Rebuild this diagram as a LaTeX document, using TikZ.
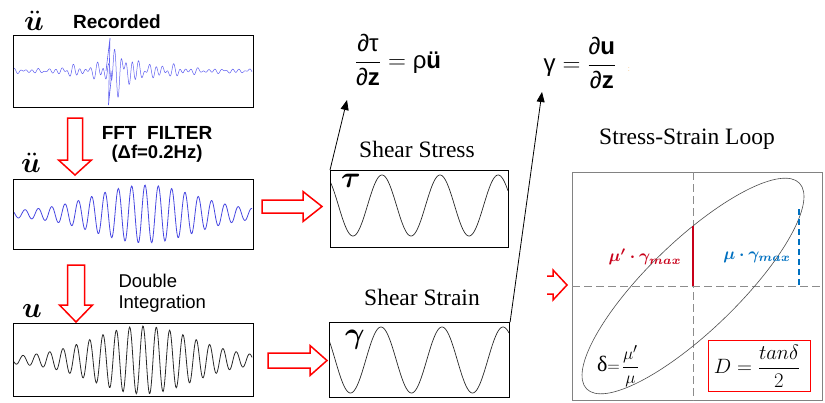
\documentclass[tikz,border=0pt]{standalone}
\usepackage{amsmath}
\usepackage{bm}
\usepackage{fontspec}
\newfontfamily\arial{Liberation Sans}
\newfontfamily\tnr{Liberation Serif}
\usetikzlibrary{arrows.meta}
\definecolor{recblue}{RGB}{95,95,240}
\definecolor{filtblue}{RGB}{70,70,225}
\definecolor{wavegray}{RGB}{40,40,40}
\definecolor{loopred}{RGB}{200,0,25}
\definecolor{loopblue}{RGB}{0,112,192}
\definecolor{axisgray}{RGB}{140,140,140}
\definecolor{boxgray}{RGB}{130,130,130}
\definecolor{dotorange}{RGB}{240,180,100}
% x1, x2 (tip), xh (head start), yc, half body, half head
\newcommand{\hblockarrow}[6]{%
  \draw[redblock] (#1,#4-#5) -- (#3,#4-#5) -- (#3,#4-#6) -- (#2,#4) -- (#3,#4+#6) -- (#3,#4+#5) -- (#1,#4+#5) -- cycle;}
% xc, y1, y2 (tip), yh (head start), half body, half head
\newcommand{\vblockarrow}[6]{%
  \draw[redblock] (#1-#5,#2) -- (#1+#5,#2) -- (#1+#5,#4) -- (#1+#6,#4) -- (#1,#3) -- (#1-#6,#4) -- (#1-#5,#4) -- cycle;}
\begin{document}
\begin{tikzpicture}[x=1pt,y=-1pt,
  wbox/.style={draw=black, line width=1.1pt, inner sep=0pt, anchor=north west},
  redblock/.style={draw=red, line width=1.5pt, fill=white, line join=miter},
  blk/.style={-{Triangle[length=10pt,width=8pt]}, line width=0.8pt, black},
  sansb/.style={font=\arial\bfseries\fontsize{18.5}{20}\selectfont},
  serifttl/.style={font=\tnr\fontsize{23.5}{25}\selectfont},
  wavelbl/.style={scale=2.9, inner sep=0pt},
  declare function={g(\t,\c,\w)=exp(-min(9,((\t-\c)/\w)*((\t-\c)/\w)));}
]
\useasboundingbox (0,0) rectangle (825,402);

% ---------- waveforms ----------
\draw[recblue, line width=0.5pt] plot[domain=14:252, samples=700]
  (\x, {71 - (2.5+4*g(\x,72,12)+22*g(\x,118,19)+5*g(\x,162,25))*(0.5*sin(61*(\x-13))+0.35*sin(43*(\x-13)+40)+0.3*sin(29*(\x-13)+100))});
\draw[recblue, line width=0.6pt] (106,71) -- (110,38) -- (108.5,105) -- (112,71);

\draw[filtblue, line width=0.8pt] plot[domain=14:252, samples=400]
  (\x, {214 - (3+26*g(\x,145,70))*cos(27*(\x-145))});

\draw[wavegray, line width=0.8pt] plot[domain=14:252, samples=400]
  (\x, {360 - (3+31*g(\x,143,70))*cos(27*(\x-143))});

\begin{scope}
  \clip (330,170) rectangle (508,247);
  \draw[wavegray, line width=0.7pt] plot[domain=330:508, samples=200] (\x, {205.5-30.5*cos(6.2*(\x-382))});
\end{scope}
\begin{scope}
  \clip (329,322) rectangle (509,397);
  \draw[wavegray, line width=0.7pt] plot[domain=329:509, samples=200] (\x, {360-33*cos(5.9*(\x-381))});
\end{scope}

% ---------- boxes ----------
\node[wbox, minimum width=240, minimum height=72] (rec) at (13,35) {};
\node[wbox, minimum width=240, minimum height=70] (filt) at (13,179) {};
\node[wbox, minimum width=240, minimum height=73] (disp) at (13,323) {};
\node[wbox, minimum width=178, minimum height=77] (stress) at (330,170) {};
\node[wbox, minimum width=180, minimum height=75] (strain) at (329,322) {};

% ---------- left labels ----------
\node[wavelbl] (l1) at (34,21) {$\bm{\ddot{u}}$};
\node[sansb, font=\arial\bfseries\fontsize{19}{20}\selectfont] (recl) at (117,22) {Recorded};
\node[wavelbl] (l2) at (31,163) {$\bm{\ddot{u}}$};
\node[sansb, font=\arial\bfseries\fontsize{19}{20}\selectfont] (fftl) at (157,133) {FFT~~FILTER};
\node[sansb] (dfl) at (157,154) {(Δf=0.2Hz)};
\node[wavelbl] (l3) at (32,311) {$\bm{u}$};
\node[font=\arial\fontsize{18.5}{21.5}\selectfont, align=left, anchor=west] (dil) at (115,293) {Double\\Integration};

% ---------- red block arrows ----------
\vblockarrow{75}{118}{175}{160}{7.5}{16.5}
\vblockarrow{76}{265}{322}{305}{8.5}{16.5}
\hblockarrow{262}{322}{303}{206.5}{6.5}{15}
\hblockarrow{268}{327}{310}{360.5}{7.5}{15}

% ---------- middle column ----------
\node[serifttl] (stt) at (417,149) {Shear Stress};
\node[serifttl] (sst) at (422,297) {Shear Strain};
\node[scale=3.0, inner sep=0pt] (taul) at (351,181) {$\bm{\tau}$};
\node[scale=3.0, inner sep=0pt] (gaml) at (355,340) {$\bm{\gamma}$};

\node[font=\fontsize{24}{28}\selectfont] (eq1) at (398,60)
  {$\dfrac{\text{\arial ∂τ}}{\text{\arial ∂\textbf{z}}}=\text{\arial ρ\textbf{ü}}$};
\node[font=\fontsize{24}{28}\selectfont] (eq2) at (580,63)
  {$\text{\arial γ}=\dfrac{\text{\arial ∂\textbf{u}}}{\text{\arial ∂\textbf{z}}}$};
\node[text=dotorange, font=\fontsize{9}{9}\selectfont] (dots) at (629,70) {:};

\coordinate (t1) at (347,100);
\coordinate (t2) at (542,92);
\draw[blk] (stress.north west) -- (t1);
\draw[blk] (strain.north east) -- (t2);

% ---------- stress-strain loop ----------
\node[serifttl] (lpt) at (687,139) {Stress-Strain Loop};
\node[draw=boxgray, line width=1pt, inner sep=0pt, anchor=north west, minimum width=250, minimum height=228] (loopbox) at (572,172) {};
\coordinate (o) at (693,286);
\draw[axisgray, line width=0.8pt, dash pattern=on 8pt off 4pt] (o |- loopbox.north) -- (o |- loopbox.south);
\draw[axisgray, line width=0.8pt, dash pattern=on 8pt off 4pt] (o -| loopbox.west) -- (o -| loopbox.east);
\draw[black!70, line width=0.6pt, rotate around={44:(o)}] (o) ellipse [x radius=148, y radius=45];
\draw[loopred, line width=1.6pt] (693,226) -- (o);
\draw[loopblue, line width=1.2pt, dash pattern=on 6pt off 4pt] (799,209) -- (799,286);

\node[text=loopred, scale=1.7, inner sep=0pt] (mupl) at (645,257) {$\bm{\mu'\cdot\gamma_{max}}$};
\node[text=loopblue, scale=1.7, inner sep=0pt] (mul) at (757,257) {$\bm{\mu\cdot\gamma_{max}}$};
\node[font=\fontsize{19}{19}\selectfont, inner sep=0pt] (dell) at (618,366) {{\tnr\fontsize{22}{22}\selectfont δ}$=\!\dfrac{\mu'}{\mu}$};
\node[draw=red, line width=0.8pt, inner sep=0pt, minimum width=102, minimum height=51] (dbox) at (759,365.5) {};
\node[font=\fontsize{20}{20}\selectfont] (dform) at (757,366) {$D=\dfrac{tan\delta}{2}$};

\draw[red, line width=1.5pt, line join=miter] (547,276) -- (553,276) -- (553,270) -- (567,285) -- (553,300) -- (553,294) -- (547,294);
\end{tikzpicture}
\end{document}
